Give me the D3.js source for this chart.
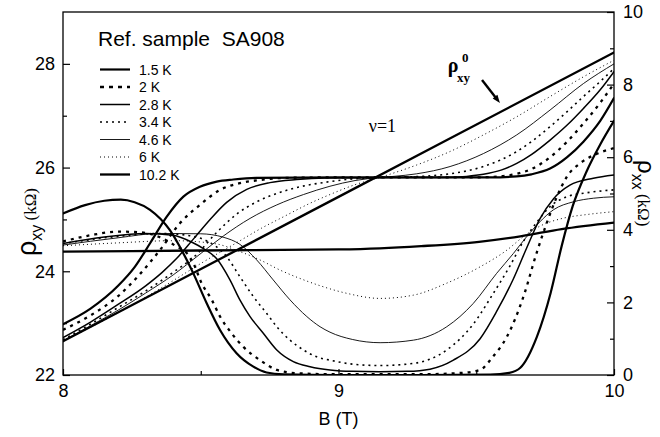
<!DOCTYPE html>
<html><head><meta charset="utf-8">
<script src="https://cdn.jsdelivr.net/npm/d3@7"></script>
<style>body{margin:0;background:#fff}svg{display:block}</style>
</head><body><svg id="c" width="660" height="437"></svg>
<script>
// ---------- data ----------
const temps = ["1.5 K","2 K","2.8 K","3.4 K","4.6 K","6 K","10.2 K"];
const xTicks = [8, 9, 10];
const xMinor = [8.5, 9.5];
const leftTicks = [22, 24, 26, 28];
const leftMinor = [23, 25, 27];
const rightTicks = [0, 2, 4, 6, 8, 10];
const rightMinor = [1, 3, 5, 7, 9];

// rho_xy (kOhm, left axis) : [B, value]
const rxy_1p5 = [[8.0,22.98],[8.1,23.28],[8.2,23.72],[8.26,24.08],[8.316,24.54],[8.376,25.05],[8.437,25.44],[8.497,25.63],[8.558,25.73],[8.618,25.77],[8.7,25.8],[9.0,25.81],[9.3,25.81],[9.55,25.81],[9.647,25.83],[9.70,25.87],[9.768,25.98],[9.83,26.2],[9.889,26.5],[9.95,26.9],[10.0,27.34]];
const rxy_2 = [[8.0,22.87],[8.1,23.15],[8.2,23.52],[8.28,23.95],[8.352,24.41],[8.425,24.93],[8.497,25.28],[8.57,25.57],[8.642,25.7],[8.715,25.76],[8.8,25.8],[9.0,25.81],[9.3,25.81],[9.48,25.81],[9.586,25.83],[9.647,25.88],[9.70,25.97],[9.768,26.2],[9.83,26.5],[9.889,26.85],[9.95,27.25],[10.0,27.62]];
const rxy_2p8 = [[8.0,22.72],[8.1,23.02],[8.2,23.36],[8.3,23.72],[8.36,23.98],[8.413,24.25],[8.473,24.62],[8.534,25.0],[8.594,25.33],[8.667,25.58],[8.751,25.71],[8.848,25.77],[8.95,25.8],[9.2,25.81],[9.38,25.81],[9.465,25.83],[9.526,25.87],[9.59,25.95],[9.647,26.08],[9.70,26.25],[9.768,26.53],[9.83,26.82],[9.889,27.14],[9.95,27.5],[10.0,27.85]];
const rxy_3p4 = [[8.0,22.68],[8.1,22.98],[8.2,23.3],[8.3,23.62],[8.4,23.98],[8.48,24.3],[8.558,24.75],[8.63,25.1],[8.703,25.34],[8.776,25.5],[8.86,25.63],[8.957,25.72],[9.05,25.78],[9.15,25.81],[9.3,25.83],[9.405,25.88],[9.526,26.02],[9.647,26.31],[9.70,26.5],[9.768,26.79],[9.83,27.08],[9.889,27.37],[9.95,27.66],[10.0,27.91]];
const rxy_4p6 = [[8.0,22.66],[8.1,22.95],[8.2,23.25],[8.3,23.58],[8.4,23.93],[8.497,24.33],[8.582,24.68],[8.679,25.02],[8.776,25.28],[8.873,25.48],[8.969,25.64],[9.06,25.75],[9.15,25.81],[9.2,25.83],[9.284,25.88],[9.405,26.02],[9.526,26.27],[9.647,26.63],[9.768,27.11],[9.889,27.62],[10.0,28.0]];
const rxy_6 = [[8.0,22.65],[8.1,22.92],[8.2,23.2],[8.3,23.5],[8.4,23.82],[8.5,24.15],[8.63,24.55],[8.72,24.83],[8.8,25.05],[8.9,25.32],[8.969,25.48],[9.06,25.67],[9.15,25.81],[9.284,26.05],[9.405,26.31],[9.526,26.63],[9.647,26.98],[9.768,27.37],[9.889,27.75],[10.0,28.07]];
const rxy_10p2 = [[8.0,22.65],[9.0,25.435],[10.0,28.22]];

// rho_xx (kOhm, right axis) : [B, value]
const rxx_1p5 = [[8.0,4.45],[8.08,4.68],[8.15,4.8],[8.21,4.83],[8.26,4.76],[8.316,4.55],[8.388,3.99],[8.437,3.35],[8.473,2.8],[8.522,1.97],[8.57,1.24],[8.63,0.6],[8.691,0.23],[8.739,0.07],[8.8,0.02],[9.0,0.0],[9.3,0.0],[9.55,0.01],[9.62,0.06],[9.66,0.2],[9.72,1.05],[9.77,2.26],[9.81,3.55],[9.85,4.65],[9.9,5.6],[9.95,6.35],[10.0,7.0]];
const rxx_2 = [[8.0,3.68],[8.1,3.85],[8.2,3.95],[8.28,3.93],[8.35,3.8],[8.41,3.55],[8.45,3.35],[8.473,3.08],[8.503,2.53],[8.54,2.07],[8.57,1.61],[8.612,1.15],[8.654,0.78],[8.715,0.41],[8.776,0.14],[8.848,0.05],[9.0,0.02],[9.3,0.02],[9.45,0.06],[9.514,0.14],[9.56,0.5],[9.611,1.05],[9.671,2.15],[9.719,3.36],[9.756,4.19],[9.792,4.9],[9.828,5.45],[9.88,5.85],[9.94,6.1],[10.0,6.25]];
const rxx_2p8 = [[8.0,3.62],[8.15,3.8],[8.3,3.9],[8.4,3.85],[8.47,3.65],[8.51,3.48],[8.558,3.2],[8.606,2.62],[8.642,2.07],[8.679,1.61],[8.727,1.15],[8.776,0.69],[8.836,0.37],[8.897,0.23],[8.969,0.14],[9.05,0.1],[9.15,0.09],[9.25,0.1],[9.332,0.16],[9.417,0.41],[9.514,1.0],[9.574,1.75],[9.635,2.65],[9.683,3.5],[9.731,4.3],[9.78,4.85],[9.84,5.23],[9.925,5.42],[10.0,5.51]];
const rxx_3p4 = [[8.0,3.62],[8.2,3.82],[8.35,3.9],[8.45,3.85],[8.52,3.7],[8.594,3.26],[8.642,2.71],[8.691,2.16],[8.739,1.7],[8.776,1.33],[8.824,0.96],[8.873,0.69],[8.921,0.5],[8.969,0.41],[9.05,0.3],[9.151,0.26],[9.272,0.32],[9.393,0.69],[9.489,1.4],[9.562,2.25],[9.622,3.0],[9.671,3.68],[9.719,4.2],[9.768,4.64],[9.828,4.91],[9.901,5.02],[10.0,5.1]];
const rxx_4p6 = [[8.0,3.58],[8.2,3.78],[8.35,3.9],[8.5,3.89],[8.58,3.8],[8.642,3.6],[8.703,3.17],[8.763,2.62],[8.824,2.07],[8.885,1.61],[8.933,1.33],[8.969,1.18],[9.05,0.98],[9.151,0.89],[9.272,0.96],[9.393,1.33],[9.489,1.97],[9.574,2.8],[9.635,3.35],[9.683,3.81],[9.731,4.22],[9.78,4.55],[9.852,4.77],[9.925,4.87],[10.0,4.91]];
const rxx_6 = [[8.0,3.56],[8.2,3.64],[8.4,3.7],[8.55,3.62],[8.642,3.4],[8.715,3.17],[8.788,2.89],[8.86,2.66],[8.933,2.46],[9.03,2.25],[9.151,2.11],[9.272,2.2],[9.393,2.53],[9.514,2.98],[9.611,3.44],[9.671,3.81],[9.731,4.1],[9.816,4.32],[9.901,4.42],[10.0,4.5]];
const rxx_10p2 = [[8.0,3.4],[8.5,3.43],[9.0,3.46],[9.15,3.49],[9.3,3.55],[9.51,3.67],[9.66,3.82],[9.81,4.02],[10.0,4.2]];

const rxySeries = [rxy_1p5, rxy_2, rxy_2p8, rxy_3p4, rxy_4p6, rxy_6, rxy_10p2];
const rxxSeries = [rxx_1p5, rxx_2, rxx_2p8, rxx_3p4, rxx_4p6, rxx_6, rxx_10p2];

// ---------- styles ----------
const styles = [
  {w:2.2, dash:null},
  {w:2.3, dash:"3,5"},
  {w:1.5, dash:null},
  {w:1.6, dash:"2,4"},
  {w:0.9, dash:null},
  {w:1.0, dash:"1,3"},
  {w:2.3, dash:null}
];
const legendDash = [null,"4,5",null,"2,4",null,"1,3",null];

const svg = d3.select("#c");
const m = {l:63, r:614, t:12, b:375};
const x = d3.scaleLinear().domain([8,10]).range([m.l, m.r]);
const yL = d3.scaleLinear().domain([22,29]).range([m.b, m.t]);
const yR = d3.scaleLinear().domain([0,10]).range([m.b, m.t]);
const SANS = "'Liberation Sans', Arial, Helvetica, sans-serif";
const SERIF = "'Liberation Serif', 'Times New Roman', serif";

svg.append("defs").append("clipPath").attr("id","clip")
  .append("rect").attr("x",m.l).attr("y",m.t).attr("width",m.r-m.l).attr("height",m.b-m.t);

const plot = svg.append("g").attr("clip-path","url(#clip)");
const lineL = d3.line().x(d=>x(d[0])).y(d=>yL(d[1])).curve(d3.curveMonotoneX);
const lineR = d3.line().x(d=>x(d[0])).y(d=>yR(d[1])).curve(d3.curveMonotoneX);

function drawSeries(data, gen){
  data.forEach((s,i)=>{
    plot.append("path").attr("d",gen(s)).attr("fill","none").attr("stroke","#000")
      .attr("stroke-width",styles[i].w)
      .attr("stroke-dasharray",styles[i].dash)
      .attr("stroke-linecap", styles[i].dash ? "butt" : "round");
  });
}
drawSeries(rxxSeries, lineR);
drawSeries(rxySeries, lineL);

// ---------- axes ----------
function styleAxis(g){
  g.select(".domain").remove();
  g.selectAll("line").attr("stroke","#000").attr("stroke-width",1.2);
  g.selectAll("text").attr("font-family",SANS).attr("font-size",18).attr("fill","#000");
}
const fmt = d3.format("d");
svg.append("g").attr("transform",`translate(0,${m.b})`)
  .call(d3.axisBottom(x).tickValues(xTicks).tickSize(-6).tickPadding(9).tickFormat(fmt)).call(styleAxis);
svg.append("g").attr("transform",`translate(0,${m.b})`)
  .call(d3.axisBottom(x).tickValues(xMinor).tickSize(-4).tickFormat("")).call(styleAxis);
svg.append("g").attr("transform",`translate(${m.l},0)`)
  .call(d3.axisLeft(yL).tickValues(leftTicks).tickSize(-7).tickPadding(8).tickFormat(fmt)).call(styleAxis);
svg.append("g").attr("transform",`translate(${m.l},0)`)
  .call(d3.axisLeft(yL).tickValues(leftMinor).tickSize(-4).tickFormat("")).call(styleAxis);
svg.append("g").attr("transform",`translate(${m.r},0)`)
  .call(d3.axisRight(yR).tickValues(rightTicks).tickSize(-7).tickPadding(9).tickFormat(fmt)).call(styleAxis);
svg.append("g").attr("transform",`translate(${m.r},0)`)
  .call(d3.axisRight(yR).tickValues(rightMinor).tickSize(-4).tickFormat("")).call(styleAxis);

svg.append("rect").attr("x",m.l).attr("y",m.t).attr("width",m.r-m.l).attr("height",m.b-m.t)
  .attr("fill","none").attr("stroke","#000").attr("stroke-width",1.3);

// axis titles
svg.append("text").attr("x",(m.l+m.r)/2).attr("y",425).attr("text-anchor","middle")
  .attr("font-family",SANS).attr("font-size",18).text("B (T)");

const tl = svg.append("text").attr("transform","translate(36,222) rotate(-90)")
  .attr("text-anchor","middle").attr("font-family",SANS);
tl.append("tspan").attr("font-size",27).text("ρ");
tl.append("tspan").attr("font-size",16).attr("dy",6).text("xy");
tl.append("tspan").attr("font-size",17).attr("dy",-6).attr("font-family",SERIF).text(" (kΩ)");

const tr = svg.append("text").attr("transform","translate(638,160) rotate(90)")
  .attr("text-anchor","start").attr("font-family",SANS);
tr.append("tspan").attr("font-size",24).text("ρ");
tr.append("tspan").attr("font-size",16).attr("dy",6).text("xx");
tr.append("tspan").attr("font-size",17).attr("dy",-6).attr("font-family",SERIF).text(" (kΩ)");

// title text
svg.append("text").attr("x",98).attr("y",46).attr("font-family",SANS).attr("font-size",21)
  .attr("xml:space","preserve").text("Ref. sample  SA908");

// legend
const legRows = [69.5, 87, 104.5, 122, 139.5, 157, 174.5];
temps.forEach((t,i)=>{
  svg.append("line").attr("x1",100).attr("x2",130).attr("y1",legRows[i]).attr("y2",legRows[i])
    .attr("stroke","#000").attr("stroke-width",styles[i].w).attr("stroke-dasharray",legendDash[i]);
  svg.append("text").attr("x",139).attr("y",legRows[i]+5).attr("font-family",SANS)
    .attr("font-size",14).text(t);
});

// annotations
svg.append("text").attr("x",x(9.11)).attr("y",yL(26.69)).attr("font-family",SERIF)
  .attr("font-size",18).text("ν=1");
const rho0 = svg.append("g").attr("font-family",SERIF).attr("font-weight","bold");
rho0.append("text").attr("x",x(9.397)).attr("y",yL(27.84)).attr("font-size",20).text("ρ");
rho0.append("text").attr("x",x(9.448)).attr("y",yL(28.04)).attr("font-size",13).text("0");
rho0.append("text").attr("x",x(9.43)).attr("y",yL(27.65)).attr("font-size",13).text("xy");

// arrow
const a0 = [9.521, 27.69], a1 = [9.586, 27.245];
const ax0 = x(a0[0]), ay0 = yL(a0[1]), ax1 = x(a1[0]), ay1 = yL(a1[1]);
const ang = Math.atan2(ay1-ay0, ax1-ax0);
const hl = 8, hw = 3;
svg.append("line").attr("x1",ax0).attr("y1",ay0)
  .attr("x2",ax1-Math.cos(ang)*hl*0.8).attr("y2",ay1-Math.sin(ang)*hl*0.8)
  .attr("stroke","#000").attr("stroke-width",2.4);
svg.append("path").attr("d",d3.line()([
  [ax1,ay1],
  [ax1-Math.cos(ang)*hl - Math.sin(ang)*hw, ay1-Math.sin(ang)*hl + Math.cos(ang)*hw],
  [ax1-Math.cos(ang)*hl + Math.sin(ang)*hw, ay1-Math.sin(ang)*hl - Math.cos(ang)*hw]
])+"Z").attr("fill","#000");
</script></body></html>
